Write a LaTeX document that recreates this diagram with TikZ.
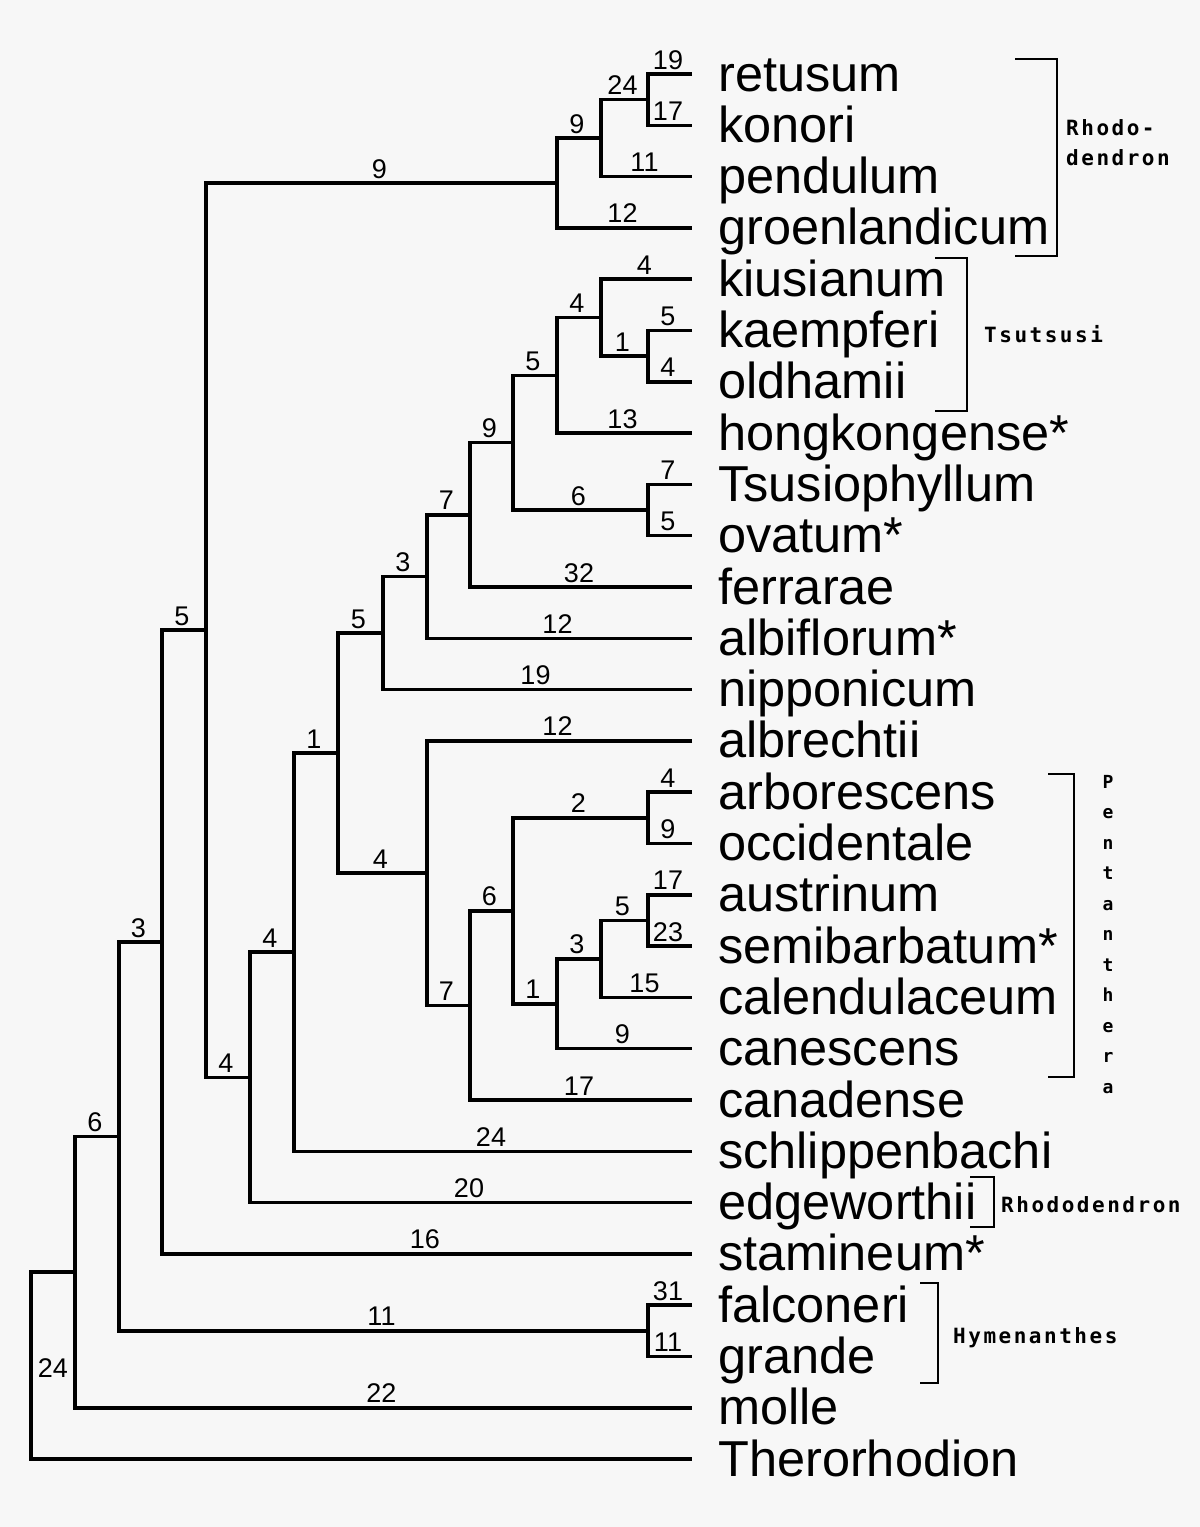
\documentclass[tikz,border=0pt]{standalone}
\usepackage{fontspec}
\setmainfont{Liberation Sans}
\newfontfamily\grpfont[LetterSpace=12]{DejaVu Sans Mono}
\usetikzlibrary{calc}
\newcommand\blab[3]{\node[bl] at ($(#1|-#2)!0.5!(#2)+(-2,-5)$) {#3};}
\begin{document}
\begin{tikzpicture}[x=1pt,y=-1pt,
  br/.style={line width=3.5pt, line join=miter, line cap=butt},
  brk/.style={line width=2.2pt, line join=miter},
  leaf/.style={anchor=base west, inner sep=0pt, font=\fontsize{50.5}{51}\selectfont},
  bl/.style={anchor=base, inner sep=0pt, font=\fontsize{27}{27}\selectfont},
  grp/.style={anchor=base west, inner sep=0pt, font=\grpfont\bfseries\fontsize{21}{30}\selectfont},
  grpv/.style={anchor=base, inner sep=0pt, font=\grpfont\bfseries\fontsize{18}{20}\selectfont},
]
\fill[black!3] (0,0) rectangle (1200,1527);

% leaves
\foreach \i/\t in {0/retusum,1/konori,2/pendulum,3/groenlandicum,4/kiusianum,
  5/kaempferi,6/oldhamii,7/hongkongense*,8/Tsusiophyllum,9/ovatum*,10/ferrarae,
  11/albiflorum*,12/nipponicum,13/albrechtii,14/arborescens,15/occidentale,
  16/austrinum,17/semibarbatum*,18/calendulaceum,19/canescens,20/canadense,
  21/schlippenbachi,22/edgeworthii,23/stamineum*,24/falconeri,25/grande,
  26/molle,27/Therorhodion}{
  \coordinate (L\i) at (692,{74+51.3*\i});
  \node[leaf] (t\i) at (718,{91+51.3*\i}) {\t};
}

% internal nodes
\coordinate (nRK)   at (648,99.65);
\coordinate (nRKP)  at (601,138.13);
\coordinate (nRh)   at (557,183.01);
\coordinate (nKO)   at (648,356.15);
\coordinate (nKKO)  at (601,317.68);
\coordinate (nTs)   at (557,375.39);
\coordinate (nTO)   at (648,510.05);
\coordinate (nNine) at (513,442.72);
\coordinate (nF)    at (470,514.86);
\coordinate (nA)    at (427,576.58);
\coordinate (nN)    at (383,633.09);
\coordinate (nAO)   at (648,817.85);
\coordinate (nAS)   at (648,920.45);
\coordinate (nASC)  at (601,958.93);
\coordinate (nASCC) at (557,1003.81);
\coordinate (nP)    at (513,910.83);
\coordinate (nPC)   at (470,1005.42);
\coordinate (nAlb)  at (427,873.16);
\coordinate (nE)    at (338,753.13);
\coordinate (nS)    at (294,952.21);
\coordinate (nEd)   at (250,1077.41);
\coordinate (nR)    at (206,630.21);
\coordinate (nSt)   at (162,942.06);
\coordinate (nFG)   at (648,1330.85);
\coordinate (nH)    at (119,1136.46);
\coordinate (nM)    at (75,1272.13);
\coordinate (root)  at (31,1365.6);

% branches
\draw[br] (L0) -| (nRK) |- (L1);
\draw[br] (nRK) -| (nRKP) |- (L2);
\draw[br] (nRKP) -| (nRh) |- (L3);
\draw[br] (L5) -| (nKO) |- (L6);
\draw[br] (L4) -| (nKKO) |- (nKO);
\draw[br] (nKKO) -| (nTs) |- (L7);
\draw[br] (L8) -| (nTO) |- (L9);
\draw[br] (nTs) -| (nNine) |- (nTO);
\draw[br] (nNine) -| (nF) |- (L10);
\draw[br] (nF) -| (nA) |- (L11);
\draw[br] (nA) -| (nN) |- (L12);
\draw[br] (L14) -| (nAO) |- (L15);
\draw[br] (L16) -| (nAS) |- (L17);
\draw[br] (nAS) -| (nASC) |- (L18);
\draw[br] (nASC) -| (nASCC) |- (L19);
\draw[br] (nAO) -| (nP) |- (nASCC);
\draw[br] (nP) -| (nPC) |- (L20);
\draw[br] (L13) -| (nAlb) |- (nPC);
\draw[br] (nN) -| (nE) |- (nAlb);
\draw[br] (nE) -| (nS) |- (L21);
\draw[br] (nS) -| (nEd) |- (L22);
\draw[br] (nRh) -| (nR) |- (nEd);
\draw[br] (nR) -| (nSt) |- (L23);
\draw[br] (L24) -| (nFG) |- (L25);
\draw[br] (nSt) -| (nH) |- (nFG);
\draw[br] (nH) -| (nM) |- (L26);
\draw[br] (nM) -| (root) |- (L27);

% branch labels
\blab{nRK}{L0}{19}
\blab{nRK}{L1}{17}
\blab{nRKP}{nRK}{24}
\blab{nRKP}{L2}{11}
\blab{nRh}{nRKP}{9}
\blab{nRh}{L3}{12}
\blab{nR}{nRh}{9}
\blab{nKKO}{L4}{4}
\blab{nKO}{L5}{5}
\blab{nKO}{L6}{4}
\blab{nKKO}{nKO}{1}
\blab{nTs}{nKKO}{4}
\blab{nTs}{L7}{13}
\blab{nTO}{L8}{7}
\blab{nTO}{L9}{5}
\blab{nNine}{nTs}{5}
\blab{nNine}{nTO}{6}
\blab{nF}{nNine}{9}
\blab{nF}{L10}{32}
\blab{nA}{nF}{7}
\blab{nA}{L11}{12}
\blab{nN}{nA}{3}
\blab{nN}{L12}{19}
\blab{nE}{nN}{5}
\blab{nAlb}{L13}{12}
\blab{nAO}{L14}{4}
\blab{nAO}{L15}{9}
\blab{nP}{nAO}{2}
\blab{nAS}{L16}{17}
\blab{nAS}{L17}{23}
\blab{nASC}{nAS}{5}
\blab{nASC}{L18}{15}
\blab{nASCC}{nASC}{3}
\blab{nASCC}{L19}{9}
\blab{nP}{nASCC}{1}
\blab{nPC}{nP}{6}
\blab{nPC}{L20}{17}
\blab{nAlb}{nPC}{7}
\blab{nE}{nAlb}{4}
\blab{nS}{nE}{1}
\blab{nS}{L21}{24}
\blab{nEd}{nS}{4}
\blab{nEd}{L22}{20}
\blab{nR}{nEd}{4}
\blab{nSt}{nR}{5}
\blab{nSt}{L23}{16}
\blab{nFG}{L24}{31}
\blab{nFG}{L25}{11}
\blab{nH}{nFG}{11}
\blab{nH}{nSt}{3}
\blab{nM}{nH}{6}
\blab{nM}{L26}{22}
\node[bl] (rootlab) at (53,1377) {24};

% group brackets
\draw[brk] (1015,59) -- (1057,59) -- (1057,256) -- (1015,256);
\draw[brk] (935,258) -- (967,258) -- (967,411) -- (935,411);
\draw[brk] (1048,774) -- (1074,774) -- (1074,1077) -- (1048,1077);
\draw[brk] (970,1177) -- (994,1177) -- (994,1227) -- (970,1227);
\draw[brk] (920,1283) -- (938,1283) -- (938,1383) -- (920,1383);

% group labels
\node[grp] (gR1) at (1066,135) {Rhodo-};
\node[grp] (gR2) at (1066,165) {dendron};
\node[grp] (gT) at (984,342) {Tsutsusi};
\node[grp] (gRe) at (1001,1212) {Rhododendron};
\node[grp] (gH) at (953,1343) {Hymenanthes};
\foreach \c [count=\k from 0] in {P,e,n,t,a,n,t,h,e,r,a}
  \node[grpv] (gP\k) at (1108,{788+30.5*\k}) {\c};
\end{tikzpicture}
\end{document}
